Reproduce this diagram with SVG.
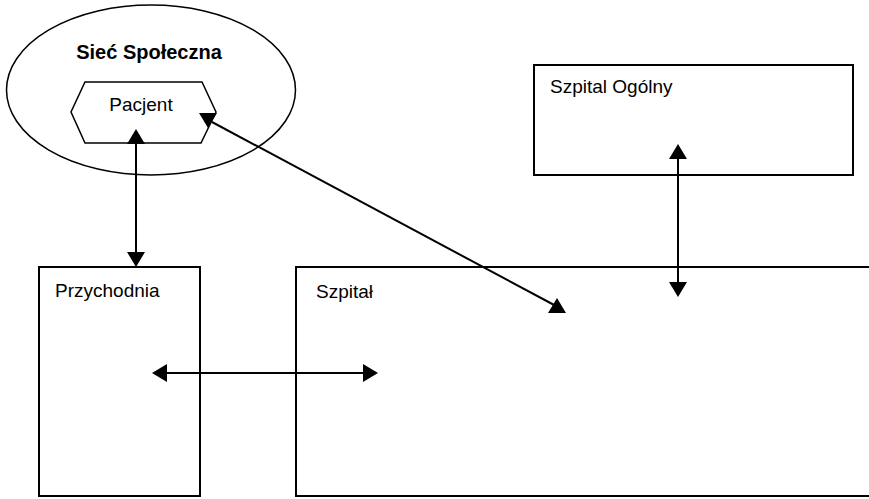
<svg xmlns="http://www.w3.org/2000/svg" xmlns:xlink="http://www.w3.org/1999/xlink" width="869" height="499" viewBox="0 0 869 499">
  <style>
    .box { fill: none; stroke: #000; stroke-width: 2; }
    .shape { fill: none; stroke: #000; stroke-width: 1.5; }
    .line { fill: none; stroke: #000; stroke-width: 2; }
    .head { fill: #000; stroke: none; }
    .lbl { font-family: "Liberation Sans", Arial, sans-serif; font-size: 19px; fill: #000; }
    .bold { font-weight: bold; font-size: 20px; }
  </style>
  <defs>
    <path id="tri" d="M0,0 L-9,15 L9,15 Z"/>
  </defs>
  <rect width="869" height="499" fill="#fff"/>

  <g id="siec-spoleczna">
    <ellipse class="shape" cx="151" cy="90" rx="144.5" ry="85"/>
    <text class="lbl bold" x="149" y="59" text-anchor="middle">Sieć Społeczna</text>
  </g>

  <g id="pacjent">
    <polygon class="shape" points="85,82 202,82 216,112 201,143 85,143 71,112"/>
    <text class="lbl" x="141" y="111" text-anchor="middle">Pacjent</text>
  </g>

  <g id="szpital-ogolny">
    <rect class="box" x="534" y="65" width="319" height="110"/>
    <text class="lbl" x="550" y="93">Szpital Ogólny</text>
  </g>

  <g id="przychodnia">
    <rect class="box" x="39" y="267" width="161" height="229"/>
    <text class="lbl" x="55" y="297">Przychodnia</text>
  </g>

  <g id="szpital">
    <path class="box" d="M872,267 L296,267 L296,496 L872,496"/>
    <text class="lbl" x="316" y="298">Szpitał</text>
  </g>

  <g id="connectors">
    <line class="line" x1="136" y1="140" x2="136" y2="255"/>
    <use href="#tri" class="head" transform="translate(136,129)"/>
    <use href="#tri" class="head" transform="translate(136,267) rotate(180)"/>

    <line class="line" x1="212" y1="122" x2="556" y2="306"/>
    <use href="#tri" class="head" transform="translate(208,128) rotate(180)"/>
    <use href="#tri" class="head" transform="translate(557,298)"/>

    <line class="line" x1="164" y1="373" x2="366" y2="373"/>
    <use href="#tri" class="head" transform="translate(152,373) rotate(-90)"/>
    <use href="#tri" class="head" transform="translate(378,373) rotate(90)"/>

    <line class="line" x1="678" y1="156" x2="678" y2="285"/>
    <use href="#tri" class="head" transform="translate(678,144)"/>
    <use href="#tri" class="head" transform="translate(678,297) rotate(180)"/>
  </g>
</svg>
